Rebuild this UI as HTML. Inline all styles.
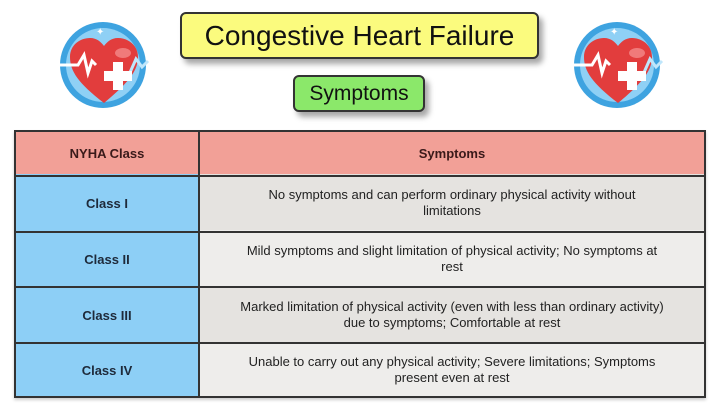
<!DOCTYPE html>
<html><head><style>
body{margin:0;width:720px;height:404px;background:#fff;position:relative;overflow:hidden;font-family:"Liberation Sans",sans-serif}
.a{position:absolute;box-sizing:border-box}
.t{display:flex;align-items:center;justify-content:center;text-align:center}
.s{font-size:13px;color:#222;line-height:16px;padding:0 8px}
.c{font-size:13px;font-weight:bold;color:#1e2a3a}
.h{position:absolute;left:14px;width:692px;height:2px;background:#333}
.v{position:absolute;top:130px;width:2px;height:268px;background:#333}
</style></head><body>
<div class="a t" style="left:180px;top:12px;width:359px;height:47px;background:#fbfb7e;border:2px solid #333;border-radius:6px;box-shadow:4px 5px 6px rgba(0,0,0,.35);font-size:28px;color:#111">Congestive Heart Failure</div>
<div class="a t" style="left:293px;top:75px;width:132px;height:37px;background:#8be86a;border:2px solid #333;border-radius:6px;box-shadow:4px 5px 6px rgba(0,0,0,.35);font-size:21px;color:#111">Symptoms</div>

<svg class="a" style="left:58px;top:21px" width="92" height="90" viewBox="0 0 92 90">
<circle cx="45" cy="44" r="43" fill="#3ea3e0"/><circle cx="45" cy="44" r="37" fill="#8fd0f5"/>
<path d="M46 82 C20 62 12 50 12 36 C12 24 22 17 32 17 C39 17 43 21 46 25 C49 21 53 17 60 17 C70 17 80 24 80 36 C80 50 70 62 46 82Z" fill="#e23d3d"/>
<ellipse cx="65" cy="32" rx="8" ry="5" fill="#f07a7a"/>
<polyline points="2,44 20,44 26,34 30,52 34,40 38,44" fill="none" stroke="#fff" stroke-width="3"/>
<polyline points="70,56 78,38 84,46 90,40" fill="none" stroke="#bfe6fb" stroke-width="3"/>
<path d="M46 50h9v-9h10v9h9v10h-9v9h-10v-9h-9z" fill="#fff"/>
<text x="38" y="14" fill="#fff" font-size="10">✦</text>
</svg>
<svg class="a" style="left:572px;top:21px" width="92" height="90" viewBox="0 0 92 90">
<circle cx="45" cy="44" r="43" fill="#3ea3e0"/><circle cx="45" cy="44" r="37" fill="#8fd0f5"/>
<path d="M46 82 C20 62 12 50 12 36 C12 24 22 17 32 17 C39 17 43 21 46 25 C49 21 53 17 60 17 C70 17 80 24 80 36 C80 50 70 62 46 82Z" fill="#e23d3d"/>
<ellipse cx="65" cy="32" rx="8" ry="5" fill="#f07a7a"/>
<polyline points="2,44 20,44 26,34 30,52 34,40 38,44" fill="none" stroke="#fff" stroke-width="3"/>
<polyline points="70,56 78,38 84,46 90,40" fill="none" stroke="#bfe6fb" stroke-width="3"/>
<path d="M46 50h9v-9h10v9h9v10h-9v9h-10v-9h-9z" fill="#fff"/>
<text x="38" y="14" fill="#fff" font-size="10">✦</text>
</svg>

<div class="a" style="left:14px;top:130px;width:692px;height:268px;box-shadow:0 2px 3px rgba(0,0,0,.2)"></div>
<div class="a t c" style="left:14px;top:130px;width:186px;height:46px;background:#f2a097;color:#3a1a1a">NYHA Class</div>
<div class="a t c" style="left:198px;top:130px;width:508px;height:46px;background:#f2a097;color:#3a1a1a">Symptoms</div>

<div class="a t c" style="left:14px;top:174px;width:186px;height:58px;background:#8dcff6">Class I</div>
<div class="a t s" style="left:198px;top:174px;width:508px;height:58px;background:#e5e3e0">No symptoms and can perform ordinary physical activity without<br>limitations</div>
<div class="a t c" style="left:14px;top:230px;width:186px;height:58px;background:#8dcff6">Class II</div>
<div class="a t s" style="left:198px;top:230px;width:508px;height:58px;background:#eeedeb">Mild symptoms and slight limitation of physical activity; No symptoms at<br>rest</div>
<div class="a t c" style="left:14px;top:286px;width:186px;height:58px;background:#8dcff6">Class III</div>
<div class="a t s" style="left:198px;top:286px;width:508px;height:58px;background:#e5e3e0">Marked limitation of physical activity (even with less than ordinary activity)<br>due to symptoms; Comfortable at rest</div>
<div class="a t c" style="left:14px;top:342px;width:186px;height:56px;background:#8dcff6">Class IV</div>
<div class="a t s" style="left:198px;top:342px;width:508px;height:56px;background:#eeedeb">Unable to carry out any physical activity; Severe limitations; Symptoms<br>present even at rest</div>

<div class="h" style="top:130px"></div>
<div class="h" style="top:175px"></div>
<div class="h" style="top:231px"></div>
<div class="h" style="top:286px"></div>
<div class="h" style="top:342px"></div>
<div class="h" style="top:396px"></div>
<div class="v" style="left:14px"></div>
<div class="v" style="left:198px"></div>
<div class="v" style="left:704px"></div>
</body></html>
